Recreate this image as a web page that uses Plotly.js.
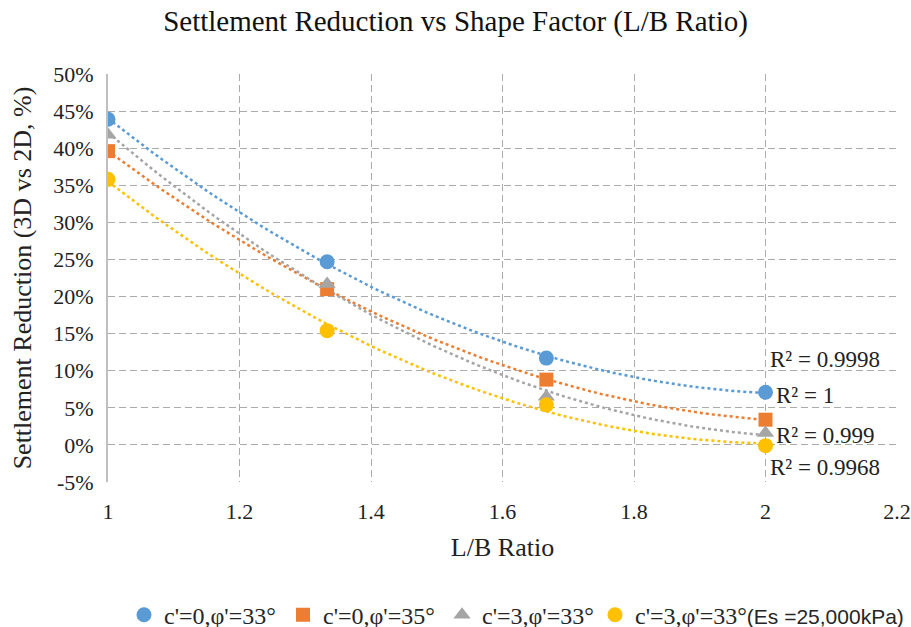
<!DOCTYPE html>
<html>
<head>
<meta charset="utf-8">
<script src="https://cdn.plot.ly/plotly-3.0.1.min.js"></script>
<style>html,body{margin:0;padding:0;background:#fff;}#chart{width:911px;height:627px;}</style>
</head>
<body>
<div id="chart"></div>
<script>
// L/B ratios
const lbRatio = [1, 1.3333, 1.6667, 2];
const seriesNames = ["c'=0,φ'=33°", "c'=0,φ'=35°", "c'=3,φ'=33°", "c'=3,φ'=33°<span style=\"font-family:'Liberation Sans';font-size:21px\">(Es =25,000kPa)</span>"];
const s1 = [0.439, 0.247, 0.117, 0.071];
const s2 = [0.396, 0.210, 0.088, 0.034];
const s3 = [0.418, 0.217, 0.065, 0.016];
const s4 = [0.358, 0.154, 0.054, -0.001];
const r2Labels = ["R² = 0.9998", "R² = 1", "R² = 0.999", "R² = 0.9968"];
const yTickVals = [-0.05, 0, 0.05, 0.1, 0.15, 0.2, 0.25, 0.3, 0.35, 0.4, 0.45, 0.5];
const yTickText = ["-5%", "0%", "5%", "10%", "15%", "20%", "25%", "30%", "35%", "40%", "45%", "50%"];
const colors = ["#5B9BD5", "#ED7D31", "#A5A5A5", "#FFC000"];
const symbols = ["circle", "square", "triangle-up", "circle"];
const legendIds = ["legend", "legend", "legend", "legend2"];
const allSeries = [s1, s2, s3, s4];

// quadratic least-squares fit (Excel polynomial trendline, order 2)
function polyFit2(xs, ys) {
  let S = [0,0,0,0,0], T = [0,0,0];
  for (let i = 0; i < xs.length; i++) {
    let p = 1;
    for (let k = 0; k < 5; k++) { S[k] += p; if (k < 3) T[k] += p * ys[i]; p *= xs[i]; }
  }
  const A = [[S[0],S[1],S[2],T[0]],[S[1],S[2],S[3],T[1]],[S[2],S[3],S[4],T[2]]];
  for (let c = 0; c < 3; c++) {
    for (let r = c + 1; r < 3; r++) {
      const f = A[r][c] / A[c][c];
      for (let k = c; k < 4; k++) A[r][k] -= f * A[c][k];
    }
  }
  const b = [0,0,0];
  for (let r = 2; r >= 0; r--) {
    let s = A[r][3];
    for (let k = r + 1; k < 3; k++) s -= A[r][k] * b[k];
    b[r] = s / A[r][r];
  }
  return b;
}

const traces = [];
allSeries.forEach((ys, i) => {
  const c = polyFit2(lbRatio, ys);
  const fx = [], fy = [];
  const x0 = lbRatio[0], x1 = lbRatio[lbRatio.length - 1];
  for (let k = 0; k <= 60; k++) {
    const x = x0 + (x1 - x0) * k / 60;
    fx.push(x); fy.push(c[0] + c[1] * x + c[2] * x * x);
  }
  traces.push({x: fx, y: fy, mode: 'lines', line: {color: colors[i], width: 2.5, dash: 'dot'}, showlegend: false, hoverinfo: 'skip'});
});
allSeries.forEach((ys, i) => {
  traces.push({x: lbRatio, y: ys, mode: 'markers', name: seriesNames[i], legend: legendIds[i],
    marker: {color: colors[i], symbol: symbols[i], size: i === 1 ? 14 : 15}});
});

const r2Y = [0.1146, 0.066, 0.0121, -0.031];
const r2X = [2.004, 2.013, 2.013, 2.004];
const annotations = r2Labels.map((t, i) => ({
  x: r2X[i], y: r2Y[i], xref: 'x', yref: 'y', text: t, showarrow: false,
  xanchor: 'left', yanchor: 'middle', font: {family: 'Liberation Serif', size: 23, color: '#222'}
}));

const legendFont = {family: 'Liberation Serif', size: 24, color: '#262626'};
const layout = {
  width: 911, height: 627,
  margin: {l: 108, r: 14, t: 74, b: 145, autoexpand: false},
  paper_bgcolor: '#fff', plot_bgcolor: '#fff',
  title: {text: 'Settlement Reduction vs Shape Factor (L/B Ratio)', x: 0.5, xanchor: 'center', y: 0.966, yanchor: 'middle',
    font: {family: 'Liberation Serif', size: 29, color: '#111'}},
  xaxis: {range: [1, 2.2], dtick: 0.2, tick0: 1, showgrid: true, griddash: '7px,4px', gridcolor: '#ababab', gridwidth: 1,
    zeroline: false, showline: false, ticks: '', ticklabelstandoff: 14, automargin: false,
    tickfont: {family: 'Liberation Serif', size: 22, color: '#222'},
    title: {text: 'L/B Ratio', font: {family: 'Liberation Serif', size: 26, color: '#222'}, standoff: 14}},
  yaxis: {range: [-0.05, 0.5], tickvals: yTickVals, ticktext: yTickText, showgrid: true, griddash: '7px,4px', gridcolor: '#ababab', gridwidth: 1,
    zeroline: false, showline: true, linecolor: '#bfbfbf', linewidth: 2, ticks: '', ticklabelstandoff: 8, automargin: false,
    tickfont: {family: 'Liberation Serif', size: 22, color: '#222'},
    title: {text: 'Settlement Reduction (3D vs 2D, %)', font: {family: 'Liberation Serif', size: 26, color: '#222'}, standoff: 14}},
  legend: {orientation: 'h', xref: 'container', yref: 'container', x: 124 / 911, xanchor: 'left', y: 0.019, yanchor: 'middle',
    font: legendFont, entrywidth: 114, entrywidthmode: 'pixels', tracegroupgap: 0},
  legend2: {orientation: 'h', xref: 'container', yref: 'container', x: 595 / 911, xanchor: 'left', y: 0.019, yanchor: 'middle',
    font: legendFont, tracegroupgap: 0},
  annotations: annotations,
  showlegend: true
};

Plotly.newPlot('chart', traces, layout, {displayModeBar: false, staticPlot: true});
</script>
</body>
</html>
